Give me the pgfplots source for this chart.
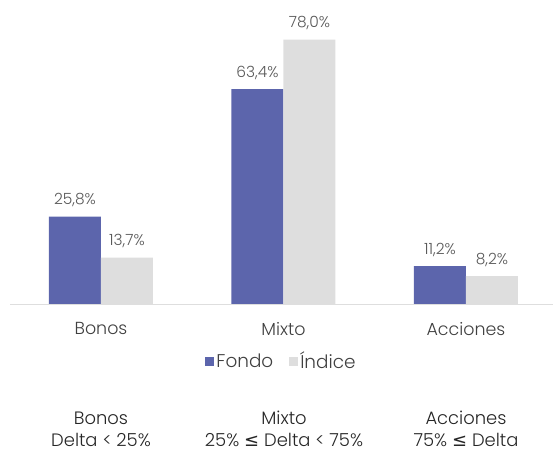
\documentclass[border=0pt]{standalone}
\usepackage{fontspec}
\setmainfont{Poppins Light}
\newfontfamily\symfont{DejaVu Sans}
\newcommand{\leqsym}{\raisebox{0pt}[\height][0pt]{\symfont ≤}}
\usepackage{pgfplots}
\pgfplotsset{compat=1.18}
\usepackage{pgfplotstable}
\definecolor{fondo}{HTML}{5C65AC}
\definecolor{indice}{HTML}{DEDEDE}
\definecolor{lbl}{HTML}{595959}
\definecolor{cat}{HTML}{404040}
\pgfplotstableread{
x y lab
0 25.8 {25,8\%}
1 63.4 {63,4\%}
2 11.2 {11,2\%}
}\fondotab
\pgfplotstableread{
x y lab
0 13.7 {13,7\%}
1 78.0 {78,0\%}
2 8.2 {8,2\%}
}\indicetab
\begin{document}
\begin{tikzpicture}
\path[use as bounding box] (0,0) rectangle (555bp,452bp);
\begin{axis}[
  at={(10bp,148bp)}, anchor=south west,
  scale only axis, width=543bp, height=288bp,
  xmin=-0.4986, xmax=2.477, ymin=0, ymax=85,
  ybar=0pt, bar width=52bp,
  hide y axis,
  axis x line*=bottom,
  x axis line style={draw=indice, line width=0.8bp},
  xtick={0,1,2}, xticklabels={Bonos,Mixto,Acciones},
  major tick length=0pt,
  xticklabel style={font=\fontsize{17.5}{20}\selectfont, text=cat, yshift=-15bp},
  clip=false,
  nodes near coords,
  point meta=explicit symbolic,
  every node near coord/.append style={font=\fontsize{15.5}{18}\selectfont, text=lbl, yshift=6bp},
  legend style={at={(0.5,-0.152)}, anchor=north, draw=none, legend columns=2,
    font=\fontsize{18.5}{21}\selectfont, text=cat,
    /tikz/every even column/.append style={column sep=14bp}},
  legend image code/.code={\fill[#1,draw=none] (0bp,-4.5bp) rectangle (9bp,4.5bp);},
]
\addplot[fill=fondo, draw=none] table[x=x,y=y,meta=lab] {\fondotab};
\addplot[fill=indice, draw=none] table[x=x,y=y,meta=lab] {\indicetab};
\legend{Fondo, Índice}
\end{axis}
\begin{scope}[every node/.style={font=\fontsize{18}{22}\selectfont, text=black!85, align=center, inner sep=0pt}]
\node at (101bp,23bp) {Bonos\\Delta < 25\%};
\node at (284bp,23bp) {Mixto\\25\% \leqsym{} Delta < 75\%};
\node at (466bp,23bp) {Acciones\\75\% \leqsym{} Delta};
\end{scope}
\end{tikzpicture}
\end{document}
